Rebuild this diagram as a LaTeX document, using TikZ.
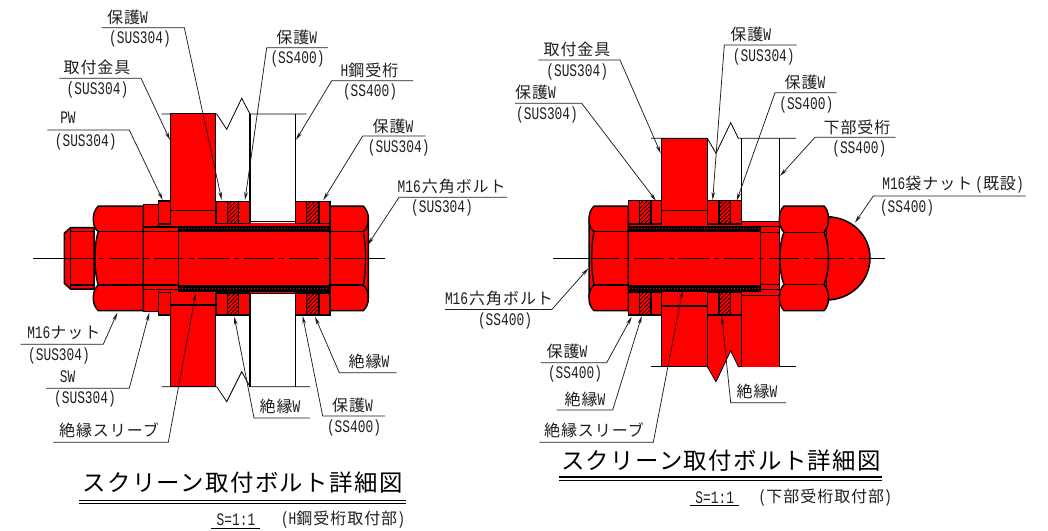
\documentclass[tikz,border=0pt]{standalone}
\usepackage{fontspec}
\usetikzlibrary{arrows.meta}
\setmainfont{Noto Sans CJK JP}[LetterSpace=6]
\newfontfamily\latf{Liberation Mono}[FakeStretch=0.73]
\newcommand\lt[1]{{\latf\fontsize{17.6}{17.6}\selectfont #1}}
\definecolor{ink}{HTML}{1f1f1f}
\tikzset{
  x=1pt,y=-1pt,
  part/.style={fill=red,draw=black,line width=1.5pt,line join=round},
  edge/.style={draw=black,line width=1.4pt},
  thin line/.style={draw=black,line width=0.8pt},
  lead/.style={draw=ink,line width=0.75pt,-{Stealth[length=8pt,width=3.6pt]}},
  lab/.style={inner sep=0pt,anchor=center,text=ink,font=\fontsize{16}{16}\selectfont},
  ttl/.style={inner sep=0pt,anchor=center,text=black,font=\fontsize{23.4}{23.4}\selectfont},
  center line/.style={draw=black,line width=0.9pt},
  chain/.style={draw=black,line width=0.9pt,dash pattern=on 30pt off 5pt on 5pt off 5pt},
}
% washer set: x0 x1 x2 x3 ytop ybot
\newcommand\wsh[6]{%
  \fill[red] (#1,#5) rectangle (#4,#6);
  \begin{scope}
    \clip (#2,#5) rectangle (#3,#6);
    \foreach \k in {0,4,...,48} {\draw[line width=0.7pt] (#2,#5+\k) -- ++(48,-48);}
  \end{scope}
  \draw[edge] (#1,#5) rectangle (#4,#6);
  \draw[edge] (#2,#5) -- (#2,#6) (#3,#5) -- (#3,#6);
}
% nut with rounded left end: extreme x, flat x
\newcommand\hexL[2]{%
  \draw[part] (#2,206) -- (#1+5,206) .. controls (#1+1.7,210) and (#1,213) .. (#1,219) .. controls (#1,225) and (#1+1.7,229) .. (#1+5,231.7) .. controls (#1+.5,245) and (#1+.5,271) .. (#1+5,285) .. controls (#1+1.7,288) and (#1,292) .. (#1,298) .. controls (#1,304) and (#1+1.7,307) .. (#1+5,310.7) -- (#2,310.7) -- cycle;
  \draw[edge] (#1+5,231.7) -- (#2,231.7) (#1+5,285) -- (#2,285);
}
% bolt head with sliver: flat on the other side
\newcommand\headR[2]{%
  \draw[part] (#1,206) -- (#2-5,206) .. controls (#2-1.7,210) and (#2,213) .. (#2,219) -- (#2,298) .. controls (#2,304) and (#2-1.7,307) .. (#2-5,310.7) -- (#1,310.7) -- cycle;
  \draw[edge] (#2,219) .. controls (#2,225) and (#2-1.7,229) .. (#2-5,231.7) .. controls (#2-2,245) and (#2-2,271) .. (#2-5,285) .. controls (#2-1.7,288) and (#2,292) .. (#2,298);
  \draw[edge] (#1,231.7) -- (#2-5,231.7) (#1,285) -- (#2-5,285);
}
\newcommand\headL[2]{%
  \draw[part] (#2,206) -- (#1+5,206) .. controls (#1+1.7,210) and (#1,213) .. (#1,219) -- (#1,298) .. controls (#1,304) and (#1+1.7,307) .. (#1+5,310.7) -- (#2,310.7) -- cycle;
  \draw[edge] (#1,219) .. controls (#1,225) and (#1+1.7,229) .. (#1+5,231.7) .. controls (#1+2,245) and (#1+2,271) .. (#1+5,285) .. controls (#1+1.7,288) and (#1,292) .. (#1,298);
  \draw[edge] (#2,231.7) -- (#1+5,231.7) (#2,285) -- (#1+5,285);
}
% sleeve bands: x from, x to
\newcommand\slv[2]{%
  \draw[edge,fill=black] (#1,226.2) rectangle (#2,230.9);
  \draw[edge,fill=black] (#1,286) rectangle (#2,291);
  \draw[red,line width=1.1pt,dash pattern=on 1.1pt off 1.9pt] (#1+1,228.5) -- (#2-1,228.5);
  \draw[red,line width=1.1pt,dash pattern=on 1.1pt off 1.9pt] (#1+1,288.5) -- (#2-1,288.5);
}
% leader: name, shelf far x, shelf near x, shelf y, tip
\newcommand\ldr[5]{%
  \coordinate (#1-a) at (#2,#4);
  \coordinate (#1-b) at (#3,#4);
  \coordinate (#1-c) at #5;
  \draw[lead] (#1-a) -- (#1-b) -- (#1-c);
}
\newcommand\lbl[4]{\node[lab] (#1) at (#2,#3) {#4};}
\begin{document}
\begin{tikzpicture}
\useasboundingbox (0,0) rectangle (1048,530);
\fill[white] (0,0) rectangle (1048,530);

%% ===== LEFT DRAWING =====
% girder and break lines
\draw[thin line] (161.7,114) -- (216.7,114) -- (226.7,129.3) -- (241.7,98.3) -- (250,114) -- (306.7,114);
\draw[thin line] (161.7,386.7) -- (216.7,386.7) -- (226.7,401.7) -- (241.7,371.7) -- (250,386.7) -- (310,386.7);
\draw[edge] (250,114) -- (250,386.7) (295.7,114) -- (295.7,386.7);
% bracket
\fill[red] (170.7,113.6) rectangle (215.7,386.4);
\draw[edge] (170.7,113.6) rectangle (215.7,386.4);
\draw[edge] (170.7,210.7) -- (215.7,210.7) (170.7,305) -- (215.7,305);
% centre block
\fill[red] (143.3,224) rectangle (330,293);
\draw[edge] (250,221.7) -- (295.7,221.7) (250,293.3) -- (295.7,293.3);
\fill[red] (216,222.5) rectangle (295,292.5);
% washers
\wsh{216.7}{227.3}{238.7}{249.3}{201.7}{223.3}
\wsh{216.7}{227.3}{238.7}{249.3}{293}{315}
\wsh{295.7}{306.7}{319}{330}{201.7}{223.3}
\wsh{295.7}{306.7}{319}{330}{293}{315}
% spring washer and plain washer
\draw[part] (143.3,204.3) rectangle (158.3,311.7);
\draw[part] (158.3,200.9) rectangle (170.7,224);
\draw[part] (158.3,292.5) rectangle (170.7,315.2);
% thread end, nut
\draw[part] (94,227.7) -- (70.5,227.7) -- (64.3,233.3) -- (64.3,283.3) -- (70.5,289) -- (94,289) -- cycle;
\draw[edge] (70.5,227.7) -- (70.5,289) (70.5,231.7) -- (94,231.7) (70.5,285) -- (94,285);
\hexL{93.3}{143.3}
% shank
\fill[red] (143.3,226.5) rectangle (178.3,290.5);
\draw[edge] (143.3,204.3) -- (143.3,311.7);
\draw[edge] (143.3,226.9) -- (178.3,226.9) (143.3,231.7) -- (178.3,231.7) (143.3,285) -- (178.3,285) (143.3,289.3) -- (178.3,289.3);
% bolt head, body, sleeve
\headR{330}{368.3}
\fill[red] (178.3,230) rectangle (330,287);
\slv{178.3}{330}
\draw[edge] (178.3,226.2) -- (178.3,291);
\draw[edge] (330,201.7) -- (330,315);
% centre line
\draw[center line] (33,258.3) -- (64.3,258.3);
\draw[chain] (64.3,258.3) -- (368.3,258.3);
\draw[center line] (368.3,258.3) -- (385,258.3);

%% ===== RIGHT DRAWING =====
\draw[thin line] (651,138.3) -- (707.3,138.3) -- (716,153.3) -- (730.7,122.7) -- (738.3,138.3) -- (796,138.3);
\draw[thin line] (651,366.7) -- (707.3,366.7) (738.3,366.7) -- (796,366.7);
\draw[edge] (741.7,138.3) -- (741.7,221.7) (779.3,138.3) -- (779.3,366.7);
% lower girder red parts
\fill[red] (741.7,295) rectangle (779.3,366.7);
\draw[edge] (741.7,295) -- (741.7,366.7) (779.3,295) -- (779.3,366.7);
\fill[red] (707.3,315) -- (741.7,315) -- (741.7,366.7) -- (738.3,366.7) -- (730.7,350.7) -- (716,381.7) -- (707.3,366.7) -- cycle;
\draw[thin line] (707.3,366.7) -- (716,381.7) -- (730.7,350.7) -- (738.3,366.7) -- (741.7,366.7);
\draw[edge] (741.7,315) -- (741.7,366.7);
% bracket
\fill[red] (661.7,138.6) rectangle (707.3,366.4);
\draw[edge] (661.7,138.6) rectangle (707.3,366.4);
\draw[edge] (661.7,210.7) -- (707.3,210.7) (661.7,306) -- (707.3,306);
% centre block
\fill[red] (741.7,221.7) rectangle (779.3,296);
\draw[edge] (741.7,221.7) -- (779.3,221.7) (741.7,295.3) -- (779.3,295.3);
\fill[red] (628.3,224) rectangle (779,293);
\fill[red] (662.4,212) rectangle (706.6,305);
% washers
\wsh{628.3}{639.3}{651}{661.7}{200.7}{224}
\wsh{628.3}{639.3}{651}{661.7}{292.7}{315}
\wsh{707.3}{719}{730.7}{741.7}{200.7}{224}
\wsh{707.3}{719}{730.7}{741.7}{292.7}{315}
% thread
\draw[edge] (760.7,226.7) -- (779.3,226.7) (760.7,232.3) -- (779.3,232.3) (760.7,284.3) -- (779.3,284.3) (760.7,289.3) -- (779.3,289.3);
\draw[edge] (779.3,221.7) -- (779.3,295.3);
% head
\headL{589}{628.3}
\fill[red] (628.3,230) rectangle (760.7,287);
\slv{628.3}{760.7}
\draw[edge] (760.7,226.2) -- (760.7,291) (628.3,226.2) -- (628.3,291);
% cap nut
\draw[part] (826,216.7) .. controls (851,216.7) and (870,235) .. (870,258) .. controls (870,281) and (851,300) .. (826,300) -- cycle;
\draw[part] (784,206) -- (824,206) .. controls (827,209) and (828.5,213) .. (828.5,219) .. controls (828.5,225) and (827,229) .. (824,232.3) .. controls (830,245) and (830,271) .. (824,284.3) .. controls (827,288) and (828.5,292) .. (828.5,298) .. controls (828.5,304) and (827,307) .. (824,310.7) -- (784,310.7) .. controls (781,307) and (779.3,304) .. (779.3,298) .. controls (779.3,292) and (781,288) .. (784,284.3) .. controls (778.5,271) and (778.5,245) .. (784,232.3) .. controls (781,229) and (779.3,225) .. (779.3,219) .. controls (779.3,213) and (781,209) .. (784,206) -- cycle;
\draw[edge] (784,232.3) -- (824,232.3) (784,284.3) -- (824,284.3);
% centre line
\draw[center line] (553,258) -- (589,258);
\draw[chain] (589,258) -- (870,258);
\draw[center line] (870,258) -- (885,258);

%% ===== LEADERS LEFT =====
\ldr{l1}{101.7}{184.3}{27.7}{(221.7,200)}
\ldr{l2}{328}{266.7}{47.7}{(245,200)}
\ldr{l3}{59.3}{141}{78.3}{(170,140)}
\ldr{l4}{413}{331.7}{80.7}{(296,140)}
\ldr{l5}{47.3}{129.3}{130}{(162.7,200)}
\ldr{l6}{425.7}{362.7}{136}{(323.3,200)}
\ldr{l7}{507}{399}{197.3}{(367.7,245)}
\ldr{l8}{20.7}{103.3}{344.3}{(117.3,312.7)}
\ldr{l9}{46}{129.3}{388.3}{(149.3,312.7)}
\ldr{l10}{53.3}{168.3}{442.3}{(195.7,293.3)}
\ldr{l11}{310}{254}{418}{(234.3,316.7)}
\ldr{l12}{385}{322.7}{416}{(302.7,316)}
\ldr{l13}{396.7}{339.3}{372.7}{(315,316.7)}

\lbl{a1}{127.5}{17}{保護\lt{W}}
\lbl{a1m}{140}{39}{\lt{(SUS304)}}
\lbl{a2}{296.7}{37}{保護\lt{W}}
\lbl{a2m}{297.5}{59}{\lt{(SS400)}}
\lbl{a3}{97}{67}{取付金具}
\lbl{a3m}{97.5}{90}{\lt{(SUS304)}}
\lbl{a4}{369.5}{70.7}{\lt{H}鋼受桁}
\lbl{a4m}{370}{91.7}{\lt{(SS400)}}
\lbl{a5}{68}{118}{\lt{PW}}
\lbl{a5m}{85.7}{142}{\lt{(SUS304)}}
\lbl{a6}{393}{126}{保護\lt{W}}
\lbl{a6m}{398.7}{148}{\lt{(SUS304)}}
\lbl{a7}{451.7}{186.7}{\lt{M16}\hspace{1pt}六角ボルト}
\lbl{a7m}{442}{208}{\lt{(SUS304)}}
\lbl{a8}{63.8}{333.3}{\lt{M16}ナット}
\lbl{a8m}{59}{356}{\lt{(SUS304)}}
\lbl{a9}{67.7}{376.7}{\lt{SW}}
\lbl{a9m}{85}{399.3}{\lt{(SUS304)}}
\lbl{a10}{109}{430.7}{絶縁スリーブ}
\lbl{a11}{280}{406.7}{絶縁\lt{W}}
\lbl{a12}{352.5}{405}{保護\lt{W}}
\lbl{a12m}{354}{427.7}{\lt{(SS400)}}
\lbl{a13}{369}{361.7}{絶縁\lt{W}}

\node[ttl] (t1) at (242.5,483) {スクリーン取付ボルト詳細図};
\draw[line width=1pt] (79.3,500.3) -- (405.7,500.3);
\draw[line width=1.6pt] (79.3,503.6) -- (405.7,503.6);
\lbl{s1}{236}{520}{\lt{S=1:1}}
\draw[line width=1.2pt] (211,528.8) -- (260,528.8);
\lbl{s2}{343}{520}{\lt{(H}鋼受桁取付部\lt{)}}

%% ===== LEADERS RIGHT =====
\ldr{r1}{538.3}{620}{60}{(660.7,153.3)}
\ldr{r2}{515}{581.7}{103.3}{(656,200.7)}
\ldr{r3}{796.7}{724.3}{45}{(712.7,200)}
\ldr{r4}{836.7}{775}{92.7}{(736.7,200.7)}
\ldr{r5}{895.7}{815}{137.3}{(780,176)}
\ldr{r6}{1025.7}{873.3}{196}{(855,222.7)}
\ldr{r7}{445}{551.7}{309.6}{(588.3,268.3)}
\ldr{r8}{540.7}{606.7}{362.7}{(631.7,316.7)}
\ldr{r9}{556.7}{612.7}{410}{(641.7,316)}
\ldr{r10}{539.3}{653.3}{442.3}{(682.7,290)}
\ldr{r11}{786}{730.7}{402.7}{(721.7,316)}

\lbl{b1}{577}{49.3}{取付金具}
\lbl{b1m}{577.2}{71.7}{\lt{(SUS304)}}
\lbl{b2}{535.5}{92.7}{保護\lt{W}}
\lbl{b2m}{547}{115}{\lt{(SUS304)}}
\lbl{b3}{750.7}{34}{保護\lt{W}}
\lbl{b3m}{763.8}{57.3}{\lt{(SUS304)}}
\lbl{b4}{805}{82.3}{保護\lt{W}}
\lbl{b4m}{806.3}{105}{\lt{(SS400)}}
\lbl{b5}{857}{127.3}{下部受桁}
\lbl{b5m}{859.3}{149.3}{\lt{(SS400)}}
\lbl{b6}{953}{185}{\lt{M16}袋ナット\hspace{3pt}\lt{(}既設\lt{)}}
\lbl{b6m}{907}{207.7}{\lt{(SS400)}}
\lbl{b7}{499}{298}{\lt{M16}\hspace{1pt}六角ボルト}
\lbl{b7m}{505}{321}{\lt{(SS400)}}
\lbl{b8}{567}{351.7}{保護\lt{W}}
\lbl{b8m}{575}{374}{\lt{(SS400)}}
\lbl{b9}{585}{399}{絶縁\lt{W}}
\lbl{b10}{594}{430.7}{絶縁スリーブ}
\lbl{b11}{757}{391.7}{絶縁\lt{W}}

\node[ttl] (t2) at (721,460.7) {スクリーン取付ボルト詳細図};
\draw[line width=1.4pt] (559.3,477) -- (882.3,477);
\draw[line width=1.4pt] (559.3,480.7) -- (882.3,480.7);
\lbl{s3}{714.7}{497.3}{\lt{S=1:1}}
\draw[line width=1pt] (690,505.7) -- (739,505.7);
\lbl{s4}{825.3}{497.3}{\lt{(}下部受桁取付部\lt{)}}
\end{tikzpicture}
\end{document}
